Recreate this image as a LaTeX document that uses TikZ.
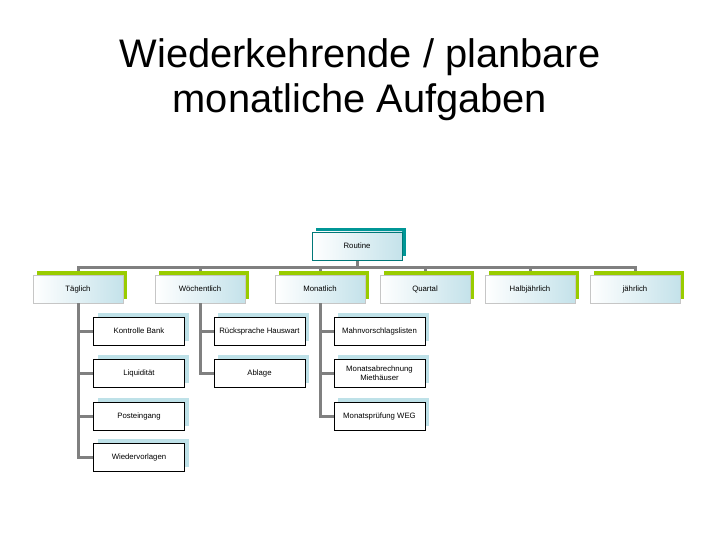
\documentclass[tikz,border=0pt]{standalone}
\usepackage{fontspec}
\setmainfont{Liberation Sans}
\usetikzlibrary{shadows}
\definecolor{teal1}{RGB}{0,150,150}
\definecolor{lime1}{RGB}{153,204,0}
\definecolor{pale}{RGB}{190,225,232}
\definecolor{shade1}{RGB}{196,226,234}
\definecolor{conn1}{RGB}{128,128,128}
\tikzset{
  base/.style={minimum width=90bp, minimum height=28bp, inner sep=1bp, align=center,
    font=\fontsize{7.8}{9}\selectfont},
  rootbox/.style={base, draw=teal1!80!black, line width=0.6bp, left color=white, right color=shade1,
    general shadow={fill=teal1, shadow xshift=4bp, shadow yshift=4bp}},
  lvlbox/.style={base, draw=gray!45, line width=0.6bp, left color=white, right color=shade1,
    general shadow={fill=lime1, shadow xshift=4bp, shadow yshift=4bp}},
  leafbox/.style={base, minimum width=91bp, draw=black, line width=0.5bp, fill=white,
    general shadow={fill=pale, shadow xshift=4bp, shadow yshift=4bp}},
  conn/.style={draw=conn1, line width=3bp}
}
\begin{document}
\begin{tikzpicture}[x=1bp,y=-1bp]
\useasboundingbox (0,0) rectangle (720,540);
\node[font=\fontsize{40}{45}\selectfont, align=center] (title) at (360,80) {Wiederkehrende / planbare\\monatliche Aufgaben};

\coordinate (bus) at (357,267);
% connectors first
\draw[conn] (357,246) -- (bus);
\draw[conn] (bus) -| (78,289);
\draw[conn] (bus) -| (200,289);
\draw[conn] (bus) -| (320,289);
\draw[conn] (bus) -| (425,289);
\draw[conn] (bus) -| (530,289);
\draw[conn] (bus) -| (635,289);

\node[rootbox] (routine) at (357,246) {Routine};

\node[lvlbox] (taeglich) at (78,289) {Täglich};
\node[lvlbox] (woech) at (200,289) {Wöchentlich};
\node[lvlbox] (monat) at (320,289) {Monatlich};
\node[lvlbox] (quartal) at (425,289) {Quartal};
\node[lvlbox] (halb) at (530,289) {Halbjährlich};
\node[lvlbox] (jaehr) at (635,289) {jährlich};

\node[leafbox] (kbank) at (139,331) {Kontrolle Bank};
\node[leafbox] (liqu) at (139,373) {Liquidität};
\node[leafbox] (post) at (139,416) {Posteingang};
\node[leafbox] (wied) at (139,457) {Wiedervorlagen};
\node[leafbox] (rueck) at (259.5,331) {Rücksprache Hauswart};
\node[leafbox] (ablage) at (259.5,373) {Ablage};
\node[leafbox] (mahn) at (379.5,331) {Mahnvorschlagslisten};
\node[leafbox] (mabr) at (379.5,373) {Monatsabrechnung\\Miethäuser};
\node[leafbox] (mweg) at (379.5,416) {Monatsprüfung WEG};

\draw[conn] (taeglich.south) |- (kbank.west);
\draw[conn] (taeglich.south) |- (liqu.west);
\draw[conn] (taeglich.south) |- (post.west);
\draw[conn] (taeglich.south) |- (wied.west);
\draw[conn] (woech.south) |- (rueck.west);
\draw[conn] (woech.south) |- (ablage.west);
\draw[conn] (monat.south) |- (mahn.west);
\draw[conn] (monat.south) |- (mabr.west);
\draw[conn] (monat.south) |- (mweg.west);
\end{tikzpicture}
\end{document}
